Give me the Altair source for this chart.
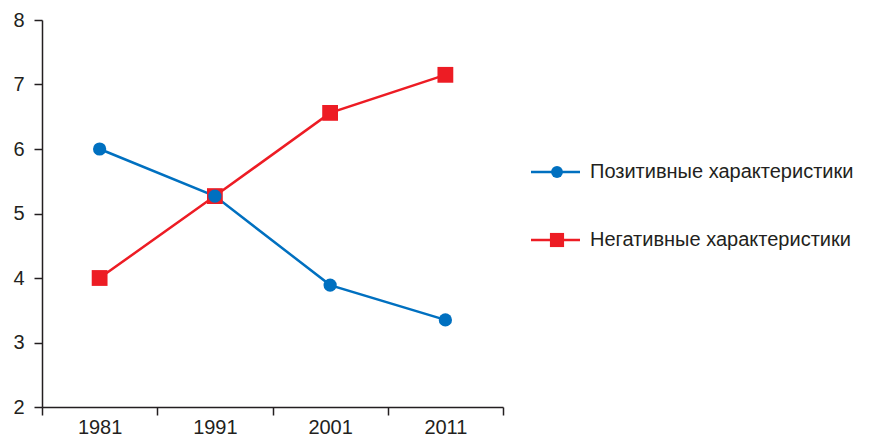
import altair as alt
import pandas as pd

years = ["1981", "1991", "2001", "2011"]
positive = [6.0, 5.27, 3.89, 3.35]
negative = [4.0, 5.27, 6.56, 7.15]
series = ["Позитивные характеристики", "Негативные характеристики"]
colors = ["#0070C0", "#ED1C24"]
shapes = ["circle", "square"]

df = pd.DataFrame({
    "year": years * 2,
    "value": positive + negative,
    "series": [series[0]] * 4 + [series[1]] * 4,
})
leg = pd.DataFrame({"series": series})

FONT = "Liberation Sans"
TXT = "#231F20"

color = alt.Color("series:N", scale=alt.Scale(domain=series, range=colors), legend=None)
shape = alt.Shape("series:N", scale=alt.Scale(domain=series, range=shapes), legend=None)

x = alt.X("year:N", sort=years,
          scale=alt.Scale(type="band", paddingInner=0, paddingOuter=0),
          axis=alt.Axis(title=None, labelAngle=0, tickBand="extent", tickSize=8,
                        labelPadding=2, labelFontSize=20, domainWidth=1.5, tickWidth=1.5))
y = alt.Y("value:Q", scale=alt.Scale(domain=[2, 8], nice=False, zero=False),
          axis=alt.Axis(title=None, values=[2, 3, 4, 5, 6, 7, 8], tickSize=8,
                        labelPadding=10, labelFontSize=20, grid=False,
                        domainWidth=1.5, tickWidth=1.5))

base = alt.Chart(df).encode(x=x, y=y, color=color)
lines = base.mark_line(strokeWidth=2.5).encode(detail="series:N", order=alt.Order("series:N"))
pts = base.mark_point(filled=True, opacity=1).encode(
    shape=shape,
    size=alt.Size("series:N", scale=alt.Scale(domain=series, range=[175, 250]), legend=None),
    order=alt.Order("series:N"))
main = alt.layer(lines, pts)

ly = alt.Y("series:N", scale=alt.Scale(type="point", domain=series, range=[152, 220], padding=0), axis=None)
lbase = alt.Chart(leg).encode(y=ly, color=color)
lrule = lbase.mark_rule(strokeWidth=2.5).encode(x=alt.value(489), x2=alt.value(538))
lpt = lbase.mark_point(filled=True, opacity=1).encode(
    x=alt.value(515), shape=shape,
    size=alt.Size("series:N", scale=alt.Scale(domain=series, range=[140, 200]), legend=None))
ltxt = alt.Chart(leg).mark_text(align="left", baseline="middle", fontSize=20, font=FONT, color=TXT).encode(
    x=alt.value(548), y=ly, text="series:N")
legend = alt.layer(lrule, lpt, ltxt)

chart = alt.layer(main, legend).resolve_scale(y="independent", size="independent").properties(
    width=461, height=387,
    autosize=alt.AutoSizeParams(type="none"),
    padding={"left": 34, "top": 12, "right": 360, "bottom": 30},
).configure_view(stroke=None).configure_axis(
    labelFont=FONT, labelColor=TXT, domainColor=TXT, tickColor=TXT
)

chart.save("out.html", embed_options={"renderer": "svg", "actions": False})
